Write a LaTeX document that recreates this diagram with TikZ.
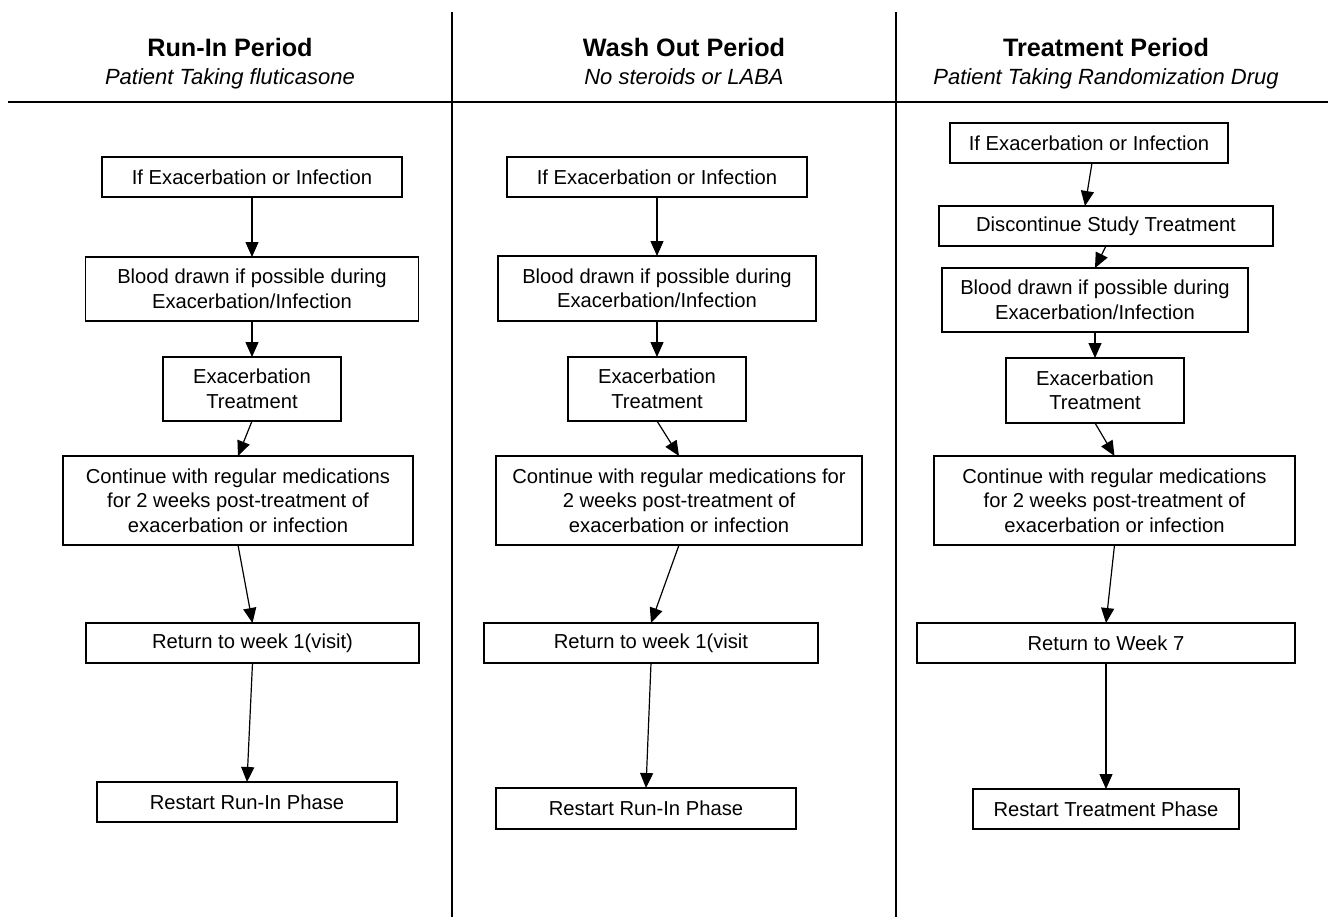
\documentclass[tikz,border=0pt]{standalone}
\usepackage{fontspec}
\setmainfont{Liberation Sans}
\usepackage{tikz}
\usetikzlibrary{arrows.meta, positioning}

\begin{document}
\begin{tikzpicture}[
    x=0.5pt, y=-0.5pt,
    box/.style={rectangle, draw, line width=0.6pt, inner sep=0pt, outer sep=0pt, align=center, font=\fontsize{10.1}{12.25}\selectfont},
    onebox/.style={box, minimum height=20pt},
    twobox/.style={box, minimum height=32pt},
    threebox/.style={box, minimum height=44.5pt},
    headtitle/.style={anchor=base, inner sep=0pt, font=\fontsize{12.6}{15}\selectfont\bfseries},
    headsub/.style={anchor=base, inner sep=0pt, font=\fontsize{11}{13}\selectfont\itshape},
    arrow/.style={-{Triangle[length=7.5pt, width=6.5pt]}, line width=0.6pt},
    rule/.style={line width=0.6pt}
]
    \useasboundingbox (0,0) rectangle (1328,917);

    % period headers and dividing lines
    \node[headtitle] (riTitle) at (230,56) {Run-In Period};
    \node[headsub] (riSub) at ([yshift=-14pt]riTitle.base) {Patient Taking fluticasone};
    \node[headtitle] (woTitle) at (684,56) {Wash Out Period};
    \node[headsub] (woSub) at ([yshift=-14pt]woTitle.base) {No steroids or LABA};
    \node[headtitle] (trTitle) at (1106,56) {Treatment Period};
    \node[headsub] (trSub) at ([yshift=-14pt]trTitle.base) {Patient Taking Randomization Drug};

    \draw[rule] (8,102) -- (1328,102);
    \draw[rule] (452,12) -- (452,917);
    \draw[rule] (896,12) -- (896,917);

    % run-in column
    \node[onebox, minimum width=150pt] (riIf) at (252,177) {If Exacerbation or Infection};
    \node[twobox, minimum width=166.5pt, below=30pt of riIf] (riBlood) {Blood drawn if possible during\\Exacerbation/Infection};
    \node[twobox, minimum width=89pt, below=18pt of riBlood] (riTreat) {Exacerbation\\Treatment};
    \node[threebox, minimum width=175pt, below=17.5pt of riTreat, xshift=-7pt] (riCont) {Continue with regular medications\\for 2 weeks post-treatment of\\exacerbation or infection};
    \node[onebox, minimum width=166.5pt, below=39pt of riCont, xshift=7.25pt] (riReturn) {Return to week 1(visit)};
    \node[onebox, minimum width=150pt, below=59.5pt of riReturn, xshift=-2.75pt] (riRestart) {Restart Run-In Phase};

    % wash out column
    \node[onebox, minimum width=150pt] (woIf) at (657,177) {If Exacerbation or Infection};
    \node[twobox, minimum width=159pt, minimum height=32.5pt, below=29.5pt of woIf] (woBlood) {Blood drawn if possible during\\Exacerbation/Infection};
    \node[twobox, minimum width=89pt, below=18pt of woBlood] (woTreat) {Exacerbation\\Treatment};
    \node[threebox, minimum width=183pt, below=17.5pt of woTreat, xshift=11pt] (woCont) {Continue with regular medications for\\2 weeks post-treatment of\\exacerbation or infection};
    \node[onebox, minimum width=167pt, below=39pt of woCont, xshift=-14pt] (woReturn) {Return to week 1(visit};
    \node[onebox, minimum width=150pt, minimum height=20.5pt, below=62.5pt of woReturn, xshift=-2.5pt] (woRestart) {Restart Run-In Phase};

    % treatment column
    \node[onebox, minimum width=139pt] (trIf) at (1089,143) {If Exacerbation or Infection};
    \node[onebox, minimum width=167pt, below=21.5pt of trIf, xshift=8.5pt] (trStop) {Discontinue Study Treatment};
    \node[twobox, minimum width=153pt, below=11pt of trStop, xshift=-5.5pt] (trBlood) {Blood drawn if possible during\\Exacerbation/Infection};
    \node[twobox, minimum width=89pt, minimum height=32.5pt, below=13pt of trBlood] (trTreat) {Exacerbation\\Treatment};
    \node[threebox, minimum width=180.5pt, below=16.5pt of trTreat, xshift=9.75pt] (trCont) {Continue with regular medications\\for 2 weeks post-treatment of\\exacerbation or infection};
    \node[onebox, minimum width=189pt, below=39pt of trCont, xshift=-4.25pt] (trReturn) {Return to Week 7};
    \node[onebox, minimum width=133pt, below=63pt of trReturn] (trRestart) {Restart Treatment Phase};

    \draw[arrow] (riIf.south) -- (riBlood.north);
    \draw[arrow] (riBlood.south) -- (riTreat.north);
    \draw[arrow] (riTreat.south) -- (riCont.north);
    \draw[arrow] (riCont.south) -- (riReturn.north);
    \draw[arrow] (riReturn.south) -- (riRestart.north);

    \draw[arrow] (woIf.south) -- (woBlood.north);
    \draw[arrow] (woBlood.south) -- (woTreat.north);
    \draw[arrow] (woTreat.south) -- (woCont.north);
    \draw[arrow] (woCont.south) -- (woReturn.north);
    \draw[arrow] (woReturn.south) -- (woRestart.north);

    \draw[arrow] ([xshift=1.5pt]trIf.south) -- ([xshift=-10.5pt]trStop.north);
    \draw[arrow] (trStop.south) -- (trBlood.north);
    \draw[arrow] (trBlood.south) -- (trTreat.north);
    \draw[arrow] (trTreat.south) -- (trCont.north);
    \draw[arrow] (trCont.south) -- (trReturn.north);
    \draw[arrow] (trReturn.south) -- (trRestart.north);
\end{tikzpicture}
\end{document}
